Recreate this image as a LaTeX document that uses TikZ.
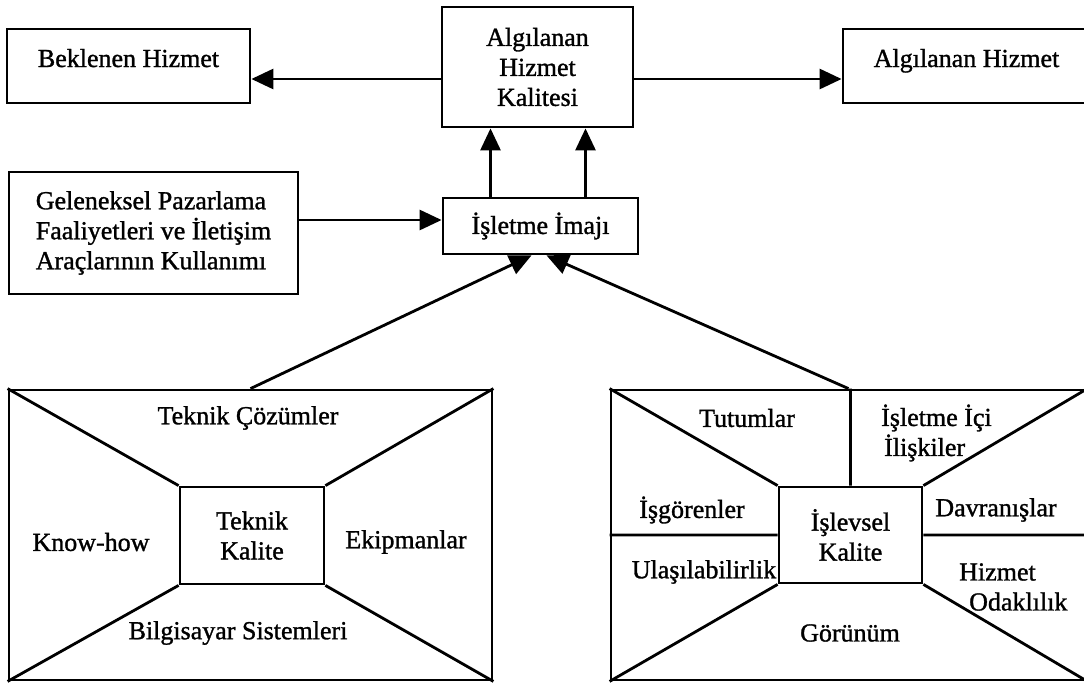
\documentclass[tikz,border=0pt]{standalone}
\usepackage{fontspec}
\setmainfont[FakeBold=1.2]{Liberation Serif}
\usetikzlibrary{arrows.meta}
\begin{document}
\begin{tikzpicture}[x=1pt,y=-1pt,
  font=\fontsize{26}{30}\selectfont,
  box/.style={draw, line width=2.8pt, rectangle, inner sep=0pt, align=center},
  lbl/.style={inner sep=0pt, align=center},
  thin line/.style={line width=2.8pt},
  arr/.style={line width=2.8pt, -{Triangle[length=22pt,width=20pt]}}]
\useasboundingbox (0,0) rectangle (1084,683);
\clip (0,0) rectangle (1084,683);

% top row
\node[box, minimum width=243, minimum height=74, text height=18pt, text depth=16pt]
  (bek) at (128.5,66) {Beklenen Hizmet};
\node[box, minimum width=191, minimum height=120] (kal) at (537.5,67)
  {Algılanan\\Hizmet\\Kalitesi};
\node[box, minimum width=247, minimum height=74, text height=18pt, text depth=16pt]
  (alg) at (966.5,66) {Algılanan Hizmet};

% middle row
\node[box, minimum width=289, minimum height=122, align=left] (gel) at (153.5,233)
  {Geleneksel Pazarlama\\Faaliyetleri ve İletişim\\Araçlarının Kullanımı};
\node[box, minimum width=195, minimum height=56] (im) at (540.5,226) {İşletme İmajı};

% connectors
\draw[arr] ([yshift=-12pt]kal.west) -- ([yshift=-12pt]kal.west -| bek.east);
\draw[arr] ([yshift=-12pt]kal.east) -- ([yshift=-12pt]kal.east -| alg.west);
\draw[arr] ([yshift=13pt]gel.east) -- ([yshift=13pt]gel.east -| im.west);
\draw[arr] ([xshift=-50pt]im.north) -- ([xshift=-50pt]im.north |- kal.south);
\draw[arr] ([xshift=45pt]im.north) -- ([xshift=45pt]im.north |- kal.south);

% technical quality frame
\node[box, minimum width=483, minimum height=290] (tek) at (250.5,535) {};
\node[box, minimum width=144, minimum height=97] (tk) at (252,535.5) {Teknik\\Kalite};
\draw[thin line] (tek.north west) -- (tk.north west)
                 (tek.north east) -- (tk.north east)
                 (tek.south west) -- (tk.south west)
                 (tek.south east) -- (tk.south east);
\node[lbl] (tc) at (248,418) {Teknik Çözümler};
\node[lbl] (kh) at (91,542) {Know-how};
\node[lbl] (ek) at (406,542) {Ekipmanlar};
\node[lbl] (bs) at (238,633) {Bilgisayar Sistemleri};

% functional quality frame
\node[box, minimum width=475, minimum height=290] (isl) at (848.5,535) {};
\node[box, minimum width=143, minimum height=96] (ik) at (850.5,535) {İşlevsel\\Kalite};
\draw[thin line] (isl.north west) -- (ik.north west)
                 (isl.north east) -- (ik.north east)
                 (isl.south west) -- (ik.south west)
                 (isl.south east) -- (ik.south east)
                 (ik.north) -- (ik.north |- isl.north)
                 (isl.west) -- (ik.west)
                 (ik.east) -- (isl.east);
\node[lbl] (tu) at (747,418) {Tutumlar};
\node[lbl, anchor=west, align=left] (ii) at (881,433) {İşletme İçi\\\hspace*{3pt}İlişkiler};
\node[lbl] (ig) at (692,510) {İşgörenler};
\node[lbl] (dv) at (996,510) {Davranışlar};
\node[lbl] (ul) at (704,572) {Ulaşılabilirlik};
\node[lbl, anchor=west, align=left] (hz) at (959,587) {Hizmet\\\hspace*{10pt}Odaklılık};
\node[lbl] (gr) at (850,633) {Görünüm};

% links from both frames to the image box
\draw[arr] (tek.north) -- ([xshift=-9pt]im.south);
\draw[arr] (isl.north) -- ([xshift=6pt]im.south);
\end{tikzpicture}
\end{document}
